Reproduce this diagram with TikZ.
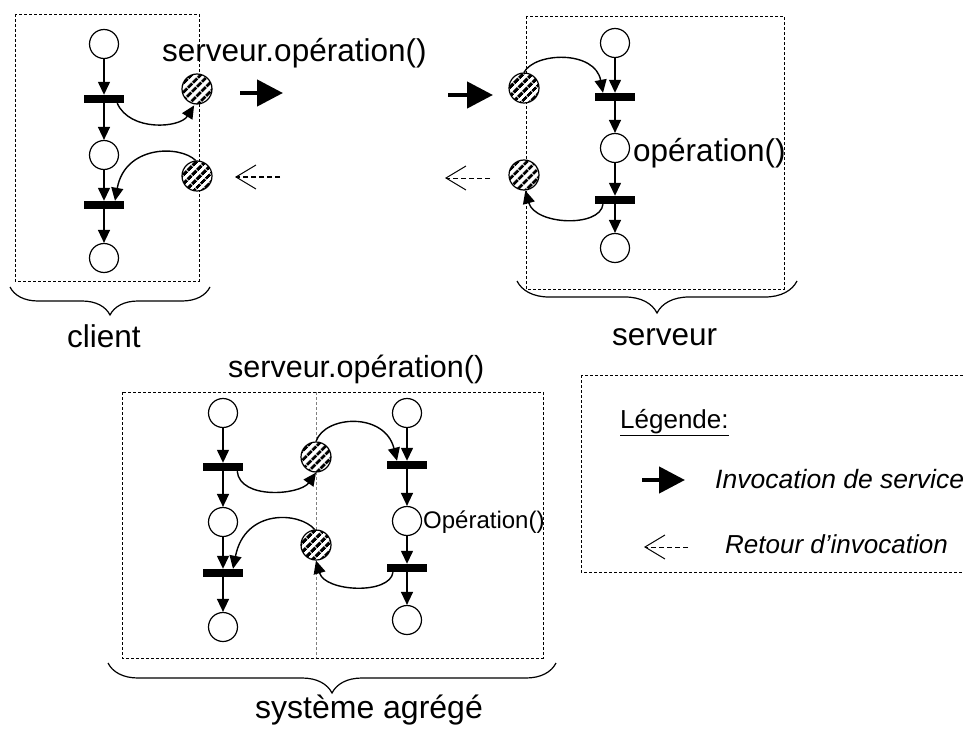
\documentclass[tikz,border=0pt]{standalone}
\usepackage{fontspec}
\setmainfont{Liberation Sans}
\usetikzlibrary{arrows.meta,patterns.meta,decorations.pathreplacing}
\begin{document}
\begin{tikzpicture}[x=1pt,y=-1pt,
 place/.style={circle,draw,line width=1.2pt,minimum size=29pt,inner sep=0pt,fill=white},
 trans/.style={rectangle,fill=black,minimum width=40pt,minimum height=8pt,inner sep=0pt},
 hatch/.style={circle,draw,line width=1.2pt,minimum size=30pt,inner sep=0pt,preaction={fill=white},pattern={Lines[angle=45,distance=6.5pt,line width=3.4pt]}},
 parc/.style={line width=1.4pt,-{Triangle[length=13pt,width=12pt]}},
 box/.style={draw,line width=0.8pt,dash pattern=on 3pt off 2pt},
 bigarrow/.style={line width=4.5pt,-{Triangle[length=26pt,width=26pt]}},
 retarrow/.style={line width=1pt,dash pattern=on 5pt off 3pt,-{Straight Barb[length=20pt,width=24pt,line width=1pt]}},
 lbl/.style={font=\fontsize{31.5}{36}\selectfont,inner sep=0pt,anchor=base west},
 brc/.style={decorate,decoration={brace,amplitude=#1},line width=1.2pt}
]
\clip (0,0) rectangle (964,733);
% boxes
\draw[box] (15,14) rectangle (199,281);
\draw[box] (526,16) rectangle (784,289);
\draw[box] (122,392) rectangle (543,658);
\draw[box,gray] (316,392) -- (316,658);
\draw[box] (581,375) rectangle (975,572);

% client
\node[place] (c1) at (104,44) {};
\node[trans] (ct1) at (104,99) {};
\node[place] (c2) at (104,155) {};
\node[trans] (ct2) at (104,205) {};
\node[place] (c3) at (104,258) {};
\node[hatch] (ch1) at (197,89) {};
\node[hatch] (ch2) at (197,176) {};
\draw[parc] (c1) -- (ct1);
\draw[parc] (ct1) -- (c2);
\draw[parc] (c2) -- (ct2);
\draw[parc] (ct2) -- (c3);
\draw[parc] ([xshift=-7pt]ct1.south east) .. controls (130,132) and (180,128) .. (ch1.260);
\draw[parc] (ch2.95) .. controls (180,145) and (125,145) .. ([xshift=11pt]ct2.north);

% server
\node[place] (s1) at (615,43) {};
\node[trans] (st1) at (615,97) {};
\node[place] (s2) at (615,148) {};
\node[trans] (st2) at (615,200) {};
\node[place] (s3) at (615,248) {};
\node[hatch] (sh1) at (524,88) {};
\node[hatch] (sh2) at (524,175) {};
\draw[parc] (s1) -- (st1);
\draw[parc] (st1) -- (s2);
\draw[parc] (s2) -- (st2);
\draw[parc] (st2) -- (s3);
\draw[parc] (sh1.90) .. controls (535,52) and (595,50) .. ([xshift=-12pt]st1.north);
\draw[parc] ([xshift=-12pt]st2.south) .. controls (600,228) and (535,225) .. (sh2.275);

% invocation arrows
\coordinate (a1s) at (240,93); \coordinate (a1e) at (283,93);
\coordinate (a2s) at (448,95); \coordinate (a2e) at (493,95);
\coordinate (r1s) at (280,177); \coordinate (r1e) at (235,177);
\coordinate (r2s) at (490,178); \coordinate (r2e) at (445,178);
\draw[bigarrow] (a1s) -- (a1e);
\draw[bigarrow] (a2s) -- (a2e);
\draw[retarrow] (r1s) -- (r1e);
\draw[retarrow] (r2s) -- (r2e);

% aggregated system
\node[place] (l1) at (223,413) {};
\node[trans] (lt1) at (223,467) {};
\node[place] (l2) at (223,522) {};
\node[trans] (lt2) at (223,573) {};
\node[place] (l3) at (223,627) {};
\node[place] (r1) at (407,413) {};
\node[trans] (rt1) at (407,465) {};
\node[place] (r2) at (407,521) {};
\node[trans] (rt2) at (407,568) {};
\node[place] (r3) at (407,620) {};
\node[hatch] (bh1) at (316,457) {};
\node[hatch] (bh2) at (316,545) {};
\draw[parc] (l1) -- (lt1);
\draw[parc] (lt1) -- (l2);
\draw[parc] (l2) -- (lt2);
\draw[parc] (lt2) -- (l3);
\draw[parc] (r1) -- (rt1);
\draw[parc] (rt1) -- (r2);
\draw[parc] (r2) -- (rt2);
\draw[parc] (rt2) -- (r3);
\draw[parc] ([xshift=-6pt]lt1.south east) .. controls (240,500) and (300,495) .. (bh1.270);
\draw[parc] (bh1.90) .. controls (325,415) and (385,412) .. ([xshift=-10pt]rt1.north);
\draw[parc] ([xshift=-14pt]rt2.south) .. controls (390,595) and (325,592) .. (bh2.270);
\draw[parc] (bh2.95) .. controls (300,512) and (245,508) .. ([xshift=10pt]lt2.north);

% braces
\draw[brc=28] (210,287) -- (10,287);
\draw[brc=32] (797,281) -- (517,281);
\draw[brc=30] (556,663) -- (108,663);

% labels
\node[lbl] (t1) at (162,62) {serveur.opération()};
\node[lbl] (t2) at (633,161) {opération()};
\node[lbl] (t3) at (67,347) {client};
\node[lbl] (t4) at (612,345) {serveur};
\node[lbl,font=\fontsize{30.5}{35}\selectfont] (t5) at (228,377) {serveur.opération()};
\node[lbl,font=\fontsize{24}{28}\selectfont] (t6) at (423,528) {Opération()};
\node[lbl,font=\fontsize{32}{37}\selectfont] (t7) at (255,718) {système agrégé};

% legend
\node[lbl,font=\fontsize{26}{30}\selectfont] (lg) at (620,428) {\underline{Légende:}};
\coordinate (la1s) at (642,480); \coordinate (la1e) at (685,480);
\coordinate (lr1s) at (688,547); \coordinate (lr1e) at (644,547);
\draw[bigarrow] (la1s) -- (la1e);
\draw[retarrow] (lr1s) -- (lr1e);
\node[lbl,font=\fontsize{26.5}{30}\selectfont\itshape] (li1) at (715,488) {Invocation de service};
\node[lbl,font=\fontsize{26}{30}\selectfont\itshape] (li2) at (725,553) {Retour d’invocation};
\end{tikzpicture}
\end{document}
